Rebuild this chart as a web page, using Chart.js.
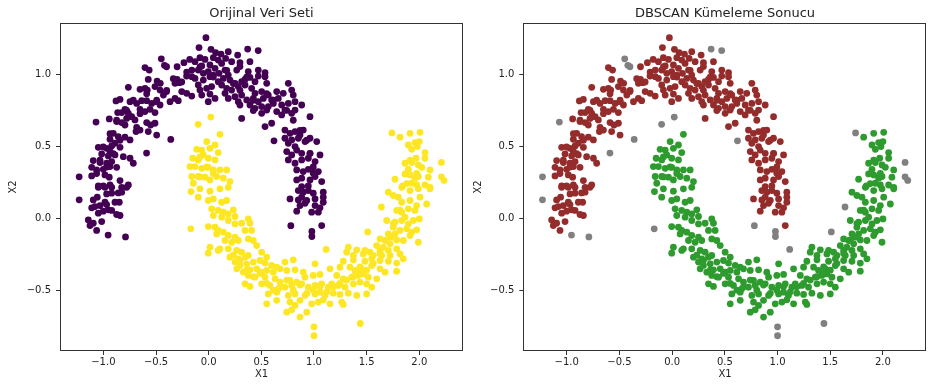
<!DOCTYPE html>
<html>
<head>
<meta charset="utf-8">
<script src="https://cdn.jsdelivr.net/npm/chart.js@4/dist/chart.umd.min.js"></script>
<style>
  body { margin: 0; background: #fff; width: 931px; height: 386px; position: relative; overflow: hidden; }
  canvas { position: absolute; top: 0; }
</style>
</head>
<body>
<canvas id="left" width="470" height="386" style="left:0"></canvas>
<canvas id="right" width="466" height="386" style="left:465px"></canvas>
<script>
// upper moon, points DBSCAN keeps in cluster 0
const upperCore = [
  [-0.30,1.055],[-0.235,1.083],[-0.18,1.106],[-0.605,1.049],[-0.565,1.032],[-0.16,1.032],[-0.21,0.99],[-0.16,0.986],
  [-0.30,0.967],[-0.28,0.944],[-0.32,0.94],[-0.574,0.967],[-0.49,0.955],[-0.46,0.94],[-0.51,0.917],[-0.763,0.912],
  [-0.652,0.898],[-0.605,0.905],[-0.583,0.893],[-0.462,0.893],[-0.40,0.882],[-0.43,0.858],[-0.256,0.882],[-0.209,0.87],
  [-0.161,0.851],[-0.32,0.835],[-0.367,0.812],[-0.289,0.819],[-0.88,0.817],[-0.842,0.828],[-0.747,0.812],[-0.684,0.80],
  [-0.636,0.819],[-0.589,0.819],[-0.541,0.80],[-0.494,0.812],[-0.462,0.789],[-0.652,0.759],[-0.605,0.743],[-0.557,0.759],
  [-0.51,0.736],[-0.795,0.759],[-0.763,0.731],[-0.826,0.736],[-0.864,0.736],[-0.731,0.708],[-0.779,0.696],[-0.70,0.685],
  [-0.826,0.667],[-0.874,0.674],[-0.795,0.65],[-0.944,0.692],[-0.589,0.667],[-0.551,0.65],[-0.51,0.662],[-0.684,0.634],
  [-0.652,0.615],[-0.69,0.604],[-0.574,0.604],[-0.494,0.58],[-0.906,0.592],[-0.859,0.569],[-0.937,0.551],[-0.795,0.565],
  [-0.747,0.546],[-0.89,0.523],[-0.921,0.504],[-0.842,0.495],[-1.048,0.495],[-0.969,0.488],[-0.937,0.465],[-1.016,0.449],
  [-0.953,0.435],[-0.89,0.442],[-0.811,0.43],[-0.747,0.419],[-0.716,0.384],[-1.096,0.403],[-1.032,0.389],[-0.969,0.384],
  [-0.921,0.396],[-1.111,0.356],[-1.064,0.338],[-1.001,0.342],[-0.937,0.361],[-0.874,0.356],[-1.111,0.296],[-0.985,0.303],
  [-0.944,0.287],[-0.842,0.264],[-0.763,0.233],[-1.048,0.226],[-1.001,0.226],[-0.937,0.233],
  [-1.048,0.217],[-0.985,0.217],[-0.921,0.217],[-0.826,0.217],[-0.779,0.217],[-0.969,0.171],[-0.921,0.176],[-0.859,0.178],
  [-0.826,0.183],[-1.096,0.129],[-1.058,0.148],[-0.985,0.113],[-0.89,0.113],[-0.849,0.113],[-1.111,0.074],[-1.08,0.083],
  [-1.032,0.09],[-0.969,0.097],[-1.001,0.051],[-0.953,0.06],[-0.921,0.056],[-1.048,0.037],[-0.874,0.028],[-0.842,0.021],
  [-1.143,-0.01],[-1.016,-0.021],[-1.127,-0.049],[-1.096,-0.033],[-1.064,-0.083],
  [-0.026,1.257],[-0.092,1.188],[0.022,1.176],[0.066,1.153],[0.117,1.143],[0.186,1.16],[0.275,1.136],[-0.083,1.118],
  [-0.035,1.106],[0.044,1.118],[0.091,1.101],[0.161,1.113],[-0.13,1.09],[-0.066,1.06],[0.012,1.067],[0.06,1.044],
  [0.123,1.078],[0.218,1.09],[0.297,1.083],[0.392,1.09],[-0.099,1.032],[-0.051,1.009],[-0.004,1.021],[0.044,0.997],
  [0.098,1.009],[0.155,1.032],[0.186,0.997],[0.266,1.032],[0.297,1.056],[0.376,1.021],[0.471,1.032],[0.535,1.014],
  [-0.13,0.974],[-0.051,0.962],[0.012,0.986],[0.091,0.951],[0.139,0.974],[0.202,0.962],[0.25,0.94],[0.313,0.951],
  [0.345,0.967],[0.392,0.981],[0.44,0.951],[0.471,0.99],[0.535,0.986],[-0.099,0.928],[-0.083,0.893],[-0.019,0.905],
  [0.028,0.917],[0.123,0.928],[0.171,0.905],[0.218,0.893],[0.281,0.917],[0.345,0.928],[0.408,0.905],[0.44,0.87],
  [0.503,0.882],[0.551,0.94],[0.756,0.94],[0.788,0.893],[0.803,0.858],[-0.066,0.858],[-0.004,0.812],[0.012,0.865],
  [0.06,0.835],[0.155,0.87],[0.186,0.835],[0.25,0.847],[0.281,0.812],[0.313,0.858],[0.361,0.824],[0.424,0.835],
  [0.471,0.812],[0.519,0.835],[0.566,0.858],[0.598,0.824],[0.646,0.882],[0.661,0.835],[0.708,0.87],[0.297,0.789],
  [0.392,0.789],[0.44,0.766],[0.503,0.778],[0.566,0.778],[0.614,0.80],[0.693,0.789],[0.756,0.80],[0.82,0.812],
  [0.883,0.789],[0.313,0.696],[0.424,0.75],[0.503,0.731],[0.551,0.754],[0.646,0.743],[0.693,0.72],[0.724,0.754],
  [0.788,0.731],[0.82,0.754],[0.962,0.708],[0.535,0.639],[0.598,0.662],[0.724,0.615],[0.772,0.592],[0.82,0.604],
  [0.867,0.58],[0.898,0.615],[0.724,0.558],[0.756,0.523],[0.788,0.546],[0.82,0.50],[0.851,0.558],[0.915,0.535],
  [0.962,0.558],[1.026,0.535],[0.741,0.465],[0.788,0.442],[0.836,0.476],[0.883,0.453],[0.962,0.453],[1.057,0.442],
  [0.756,0.407],[0.82,0.384],[0.883,0.407],[0.946,0.419],[1.01,0.396],[0.836,0.338],[0.898,0.326],[0.946,0.342],
  [0.993,0.315],[1.041,0.326],[0.836,0.268],[0.883,0.28],[0.962,0.268],[1.01,0.292],[1.073,0.257],[0.883,0.222],
  [0.946,0.226],[0.851,0.194],[0.898,0.183],[0.946,0.194],[0.993,0.176],[1.088,0.183],[0.772,0.136],[0.851,0.129],
  [0.883,0.148],[0.931,0.125],[1.01,0.136],[1.088,0.148],[0.867,0.09],[0.915,0.106],[1.01,0.09],[1.057,0.074],
  [1.088,0.113],[0.836,0.051],[0.978,0.044],[1.041,0.044],[1.073,-0.049],
  [-0.336,0.972],[-0.256,0.949],[-0.209,1.018],[-0.083,1.053],[0.044,0.983],[0.171,1.03],[0.234,0.938],[0.297,0.891],
  [0.361,0.983],[0.424,0.822],[0.551,0.868],[0.614,0.822],[0.741,0.752],[0.803,0.683],[0.867,0.613],[0.931,0.544],
  [0.962,0.451],[0.993,0.358],[-0.589,0.868],[-0.716,0.822],[-0.779,0.752],[-0.874,0.683],[-0.937,0.59],[-1.001,0.497],
  [-1.032,0.405],[-1.064,0.313],[-0.969,0.358],[-0.906,0.451],[-0.842,0.544],[-0.652,0.729],[-0.494,0.822],[-0.399,0.891]
];

// upper moon, points DBSCAN marks as noise
const upperNoise = [
  [-0.45,1.11],[-0.42,1.065],[-0.40,1.055],[0.37,1.178],[0.47,1.167],[-1.07,0.67],[-0.36,0.55],[0.62,0.54],
  [-0.59,0.455],[-1.23,0.29],[-1.23,0.13],[-0.955,-0.115],[-0.79,-0.128],[0.78,-0.05],[0.98,-0.09],[0.98,-0.125]
];

// lower moon, cluster 1
const lowerCore = [
  [-0.152,0.419],[-0.178,0.361],[-0.161,0.292],[-0.146,0.245],[-0.168,0.187],
  [0.107,0.585],[-0.019,0.535],[0.06,0.511],[0.012,0.488],[-0.066,0.476],[-0.114,0.481],[0.091,0.458],[-0.051,0.442],
  [-0.004,0.419],[-0.099,0.407],[0.06,0.407],[-0.13,0.361],[-0.066,0.349],[-0.004,0.356],[0.044,0.338],[0.107,0.338],
  [0.171,0.338],[-0.099,0.292],[-0.035,0.287],[0.012,0.268],[0.076,0.292],[0.139,0.28],[0.202,0.257],
  [1.817,0.565],[1.912,0.592],[2.007,0.599],[1.896,0.511],[1.959,0.528],[2.0,0.535],[1.928,0.481],[1.981,0.50],
  [2.054,0.458],[1.969,0.419],[2.054,0.419],[1.864,0.384],[1.928,0.389],[1.991,0.372],[2.023,0.356],[1.896,0.342],
  [2.102,0.338],[1.769,0.273],[1.864,0.31],[1.912,0.303],[1.959,0.28],[1.991,0.292],[2.085,0.287],[1.842,0.226],
  [1.928,0.245],[1.975,0.233],[2.054,0.233],[2.102,0.217],
  [-0.083,0.206],[0.012,0.19],[0.107,0.206],[0.186,0.217],[-0.099,0.148],[-0.004,0.125],[0.044,0.136],[0.123,0.113],
  [0.171,0.125],[0.028,0.067],[0.091,0.056],[0.139,0.044],[0.186,0.032],[0.234,0.06],[0.044,0.021],[0.123,0.009],
  [0.186,-0.014],[0.25,0.014],[-0.004,-0.056],[0.06,-0.06],[0.091,-0.083],[0.25,-0.038],[0.313,-0.033],[0.376,-0.003],
  [0.392,-0.033],[0.076,-0.107],[0.139,-0.095],[0.186,-0.118],[0.25,-0.13],[0.345,-0.083],[0.408,-0.083],[0.155,-0.153],
  [0.218,-0.165],[0.281,-0.153],[0.376,-0.142],[0.424,-0.153],[0.456,-0.188],[0.012,-0.199],[0.107,-0.211],[0.186,-0.211],
  [0.266,-0.222],[0.313,-0.234],[0.376,-0.257],[-0.004,-0.241],[0.091,-0.222],[0.202,-0.269],[0.281,-0.28],[0.345,-0.269],
  [0.503,-0.234],[0.551,-0.269],[0.25,-0.303],[0.297,-0.326],[0.361,-0.315],[0.424,-0.303],[0.487,-0.292],[0.535,-0.31],
  [0.598,-0.326],[0.646,-0.338],[0.724,-0.303],[0.803,-0.287],[0.266,-0.35],[0.329,-0.373],[0.392,-0.357],[0.456,-0.35],
  [0.503,-0.373],[0.551,-0.361],[0.614,-0.373],[0.677,-0.35],[0.741,-0.361],[0.82,-0.357],[0.898,-0.373],[0.376,-0.396],
  [0.44,-0.408],[0.535,-0.408],[0.63,-0.419],[0.677,-0.442],[0.772,-0.431],[0.836,-0.442],[0.915,-0.408],[0.993,-0.396],
  [1.057,-0.389],[1.01,-0.315],[0.345,-0.454],[0.392,-0.472],[0.503,-0.454],[0.582,-0.465],[0.661,-0.489],[0.724,-0.477],
  [0.788,-0.465],[0.883,-0.454],[0.946,-0.477],[1.01,-0.465],[1.073,-0.454],[1.136,-0.477],[0.566,-0.524],[0.646,-0.512],
  [0.756,-0.535],[0.82,-0.524],[0.915,-0.535],[1.01,-0.524],[1.057,-0.512],[1.104,-0.535],[0.551,-0.593],[0.646,-0.569],
  [0.772,-0.581],[0.82,-0.604],[0.867,-0.569],[0.978,-0.593],[1.041,-0.581],[1.088,-0.565],[0.741,-0.651],[0.788,-0.635],
  [0.931,-0.651],[0.867,-0.685],
  [1.706,0.183],[1.753,0.16],[1.833,0.217],[1.912,0.194],[1.991,0.206],[2.102,0.206],[1.801,0.148],[1.833,0.113],
  [1.912,0.125],[2.007,0.148],[2.07,0.101],[1.785,0.056],[1.833,0.044],[1.896,0.067],[1.959,0.056],[1.975,0.09],
  [1.864,0.009],[1.69,-0.014],[1.769,-0.026],[1.833,-0.014],[1.896,-0.038],[1.943,-0.014],[2.0,-0.003],[1.753,-0.06],
  [1.817,-0.083],[1.88,-0.072],[1.928,-0.095],[1.975,-0.079],[1.769,-0.107],[1.706,-0.107],[1.627,-0.142],[1.675,-0.153],
  [1.738,-0.13],[1.785,-0.149],[1.848,-0.153],[1.912,-0.118],[1.991,-0.165],[1.595,-0.188],[1.658,-0.199],[1.722,-0.176],
  [1.785,-0.211],[1.706,-0.222],[1.817,-0.246],[1.848,-0.28],[1.326,-0.199],[1.406,-0.218],[1.484,-0.222],[1.532,-0.234],
  [1.627,-0.222],[1.31,-0.234],[1.374,-0.257],[1.468,-0.246],[1.563,-0.257],[1.643,-0.257],[1.722,-0.257],[1.785,-0.31],
  [1.278,-0.297],[1.374,-0.287],[1.484,-0.297],[1.548,-0.28],[1.627,-0.292],[1.706,-0.297],[1.152,-0.35],[1.247,-0.338],
  [1.342,-0.338],[1.389,-0.361],[1.453,-0.35],[1.548,-0.327],[1.627,-0.35],[1.675,-0.373],[1.785,-0.366],[1.216,-0.396],
  [1.278,-0.419],[1.358,-0.408],[1.421,-0.396],[1.468,-0.385],[1.516,-0.408],[1.595,-0.419],[1.168,-0.454],[1.231,-0.465],
  [1.294,-0.477],[1.374,-0.454],[1.437,-0.442],[1.5,-0.454],[1.548,-0.477],[1.183,-0.519],[1.247,-0.528],[1.326,-0.519],
  [1.406,-0.535],[1.5,-0.524],[1.152,-0.593],[1.263,-0.581],[1.278,-0.597],
  [0.234,-0.255],[0.297,-0.29],[0.361,-0.359],[0.424,-0.405],[0.487,-0.382],[0.551,-0.451],[0.614,-0.498],[0.677,-0.475],
  [0.741,-0.428],[0.803,-0.498],[0.867,-0.463],[0.931,-0.521],[0.993,-0.498],[1.057,-0.475],[1.121,-0.51],[1.183,-0.475],
  [1.247,-0.451],[1.31,-0.428],[1.374,-0.405],[1.437,-0.382],[1.5,-0.359],
  [-0.083,0.428],[-0.019,0.358],[-0.083,0.289],[0.044,0.313],[1.912,0.405],[1.975,0.313],[1.88,0.243],
  [1.817,0.058],[1.753,-0.035],[1.69,-0.151],[1.627,-0.243],[1.563,-0.313],[1.437,-0.336]
];

// lower moon, noise
const lowerNoise = [
  [-0.10,0.655],[0.02,0.705],[-0.17,-0.072],[1.115,-0.215],[1.64,0.08],[1.51,-0.093],[1.74,0.595],
  [2.21,0.39],[2.21,0.29],[2.235,0.265],[1.0,-0.753],[1.0,-0.815],[1.44,-0.73]
];

const xTicks = [-1.0, -0.5, 0.0, 0.5, 1.0, 1.5, 2.0];
const yTicks = [-0.5, 0.0, 0.5, 1.0];
const xRange = [-1.412, 2.415];
const yRange = [-0.921, 1.359];

const toPts = arr => arr.map(p => ({ x: p[0], y: p[1] }));
const fmt = v => v.toFixed(1).replace('-', '\u2212');

// matplotlib style box around the axes
const frame = {
  id: 'frame',
  afterDatasetsDraw(chart) {
    const { ctx, chartArea: a } = chart;
    ctx.save();
    ctx.strokeStyle = '#333';
    ctx.lineWidth = 1;
    ctx.strokeRect(Math.round(a.left) + 0.5, Math.round(a.top) + 0.5,
      Math.round(a.right - a.left) - 1, Math.round(a.bottom - a.top) - 1);
    ctx.restore();
  }
};

function makeScale(ticks, range, title, isY, width) {
  return {
    type: 'linear',
    min: range[0],
    max: range[1],
    afterBuildTicks: s => { s.ticks = ticks.map(v => ({ value: v })); },
    afterFit: s => { if (isY) s.width = width; else s.height = 35; },
    border: { display: false },
    grid: { display: true, drawOnChartArea: false, drawTicks: true, tickLength: 4, color: '#333' },
    ticks: {
      callback: v => fmt(v),
      color: '#222',
      padding: isY ? 5 : 1,
      font: { family: 'DejaVu Sans', size: 10 },
      maxRotation: 0,
      autoSkip: false
    },
    title: {
      display: true,
      text: title,
      color: '#222',
      font: { family: 'DejaVu Sans', size: 10 },
      padding: isY ? { top: 7, bottom: 7 } : { top: 6, bottom: 6 }
    }
  };
}

function makeChart(id, titleText, datasets, yWidth, padRight) {
  return new Chart(document.getElementById(id), {
    type: 'scatter',
    data: { datasets },
    options: {
      responsive: false,
      animation: false,
      devicePixelRatio: 1,
      layout: { padding: { left: 0, right: padRight, top: 0, bottom: 0 } },
      scales: {
        x: makeScale(xTicks, xRange, 'X1', false),
        y: makeScale(yTicks, yRange, 'X2', true, yWidth)
      },
      plugins: {
        legend: { display: false },
        tooltip: { enabled: false },
        title: {
          display: true,
          text: titleText,
          fullSize: false,
          color: '#222',
          font: { family: 'DejaVu Sans', size: 13, weight: 'normal' },
          padding: { top: 5.5, bottom: 1.9 }
        }
      }
    },
    plugins: [frame]
  });
}

const dot = (data, color) => ({
  data: toPts(data),
  backgroundColor: color,
  borderWidth: 0,
  pointRadius: 3.4,
  pointHoverRadius: 3.4
});

makeChart('left', 'Orijinal Veri Seti', [
  dot(upperCore.concat(upperNoise), '#440154'),
  dot(lowerCore.concat(lowerNoise), '#fde725')
], 60, 7);

makeChart('right', 'DBSCAN K\u00fcmeleme Sonucu', [
  dot(upperCore, '#952c2c'),
  dot(lowerCore, '#2e9b2e'),
  dot(upperNoise.concat(lowerNoise), '#808080')
], 58.3, 4.3);
</script>
</body>
</html>
